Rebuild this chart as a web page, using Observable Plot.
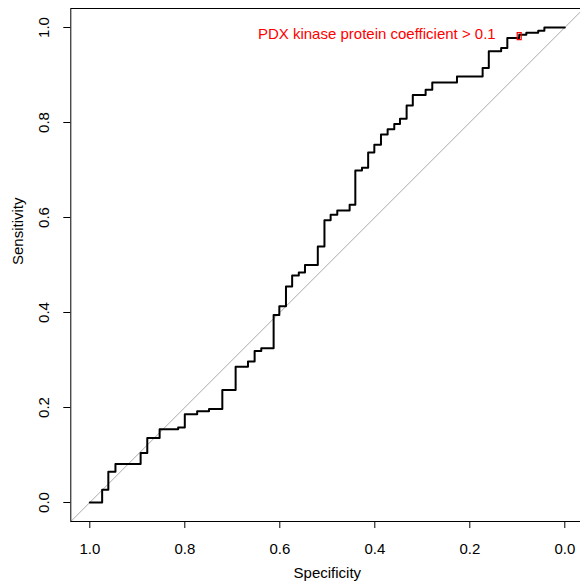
<!DOCTYPE html>
<html>
<head>
<meta charset="utf-8">
<script src="https://cdn.jsdelivr.net/npm/d3@7"></script>
<script src="https://cdn.jsdelivr.net/npm/@observablehq/plot@0.6"></script>
<style>
  html, body { margin: 0; padding: 0; background: #fff; overflow: hidden; }
</style>
</head>
<body>
<div id="chart"></div>
<script>
// ROC curve vertices (specificity, sensitivity), drawn as a staircase
const specificity = [1, 0.974, 0.961, 0.946, 0.893, 0.879, 0.853, 0.814, 0.800, 0.774,
  0.749, 0.721, 0.693, 0.667, 0.653, 0.639, 0.613, 0.601, 0.587, 0.574,
  0.560, 0.547, 0.520, 0.506, 0.493, 0.479, 0.453, 0.441, 0.427, 0.414,
  0.401, 0.387, 0.373, 0.359, 0.347, 0.333, 0.320, 0.293, 0.279, 0.227,
  0.173, 0.160, 0.134, 0.121, 0.096, 0.081, 0.056, 0.043, 0];
const sensitivity = [0, 0.027, 0.065, 0.081, 0.104, 0.136, 0.154, 0.158, 0.186, 0.192,
  0.197, 0.237, 0.286, 0.297, 0.319, 0.325, 0.395, 0.413, 0.455, 0.478,
  0.484, 0.500, 0.539, 0.594, 0.606, 0.615, 0.627, 0.699, 0.705, 0.737,
  0.753, 0.775, 0.786, 0.797, 0.808, 0.836, 0.858, 0.869, 0.884, 0.897,
  0.915, 0.950, 0.957, 0.978, 0.985, 0.989, 0.993, 1.0, 1.0];

// Highlighted threshold
const thresholdSpecificity = [0.096];
const thresholdSensitivity = [0.982];
const thresholdLabels = ["PDX kinase protein coefficient > 0.1"];

// Axis ticks and extents (specificity runs from 1 down to 0)
const tickValues = [0, 0.2, 0.4, 0.6, 0.8, 1];
const xDomain = [1.04, -0.04];
const yDomain = [-0.04, 1.04];

const roc = specificity.map((s, i) => ({spec: s, sens: sensitivity[i]}));
const thresholds = thresholdSpecificity.map((s, i) => ({
  spec: s, sens: thresholdSensitivity[i], label: thresholdLabels[i]
}));
// chance diagonal: sensitivity = 1 - specificity across the full panel
const chance = xDomain.map(s => ({spec: s, sens: 1 - s}));

// small upright rectangle used as the threshold marker
const boxSymbol = {draw(ctx) { ctx.rect(-2, -3.5, 4, 7); }};

const fmt = d3.format(".1f");

const chart = Plot.plot({
  width: 580,
  height: 585,
  marginLeft: 70.3,
  marginRight: -3.3,
  marginTop: 8,
  marginBottom: 64,
  style: {
    fontFamily: "'Liberation Sans', Arial, Helvetica, sans-serif",
    fontSize: "15px",
    background: "#fff",
    color: "#000",
    overflow: "hidden"
  },
  x: {domain: xDomain},
  y: {domain: yDomain},
  marks: [
    Plot.axisX({ticks: tickValues, tickFormat: fmt, tickSize: 7, tickPadding: 15, label: null}),
    Plot.axisY({ticks: tickValues, tickFormat: fmt, tickSize: 7, tickPadding: 15, tickRotate: -90, label: null}),
    Plot.text(["Specificity"], {text: d => d, frameAnchor: "bottom", dy: 56}),
    Plot.text(["Sensitivity"], {text: d => d, frameAnchor: "left", dx: -53, rotate: -90}),
    Plot.line(chance, {x: "spec", y: "sens", stroke: "#aaa", strokeWidth: 1}),
    Plot.line(roc, {x: "spec", y: "sens", curve: "step-after", stroke: "#000", strokeWidth: 2}),
    Plot.dot(thresholds, {x: "spec", y: "sens", symbol: boxSymbol, stroke: "red", fill: "none", strokeWidth: 1.2}),
    Plot.text(thresholds, {x: "spec", y: "sens", text: "label", textAnchor: "end", dx: -23.5, dy: -1.5, fill: "red"}),
    Plot.frame({stroke: "#000"})
  ]
});

document.getElementById("chart").appendChild(chart);
</script>
</body>
</html>
